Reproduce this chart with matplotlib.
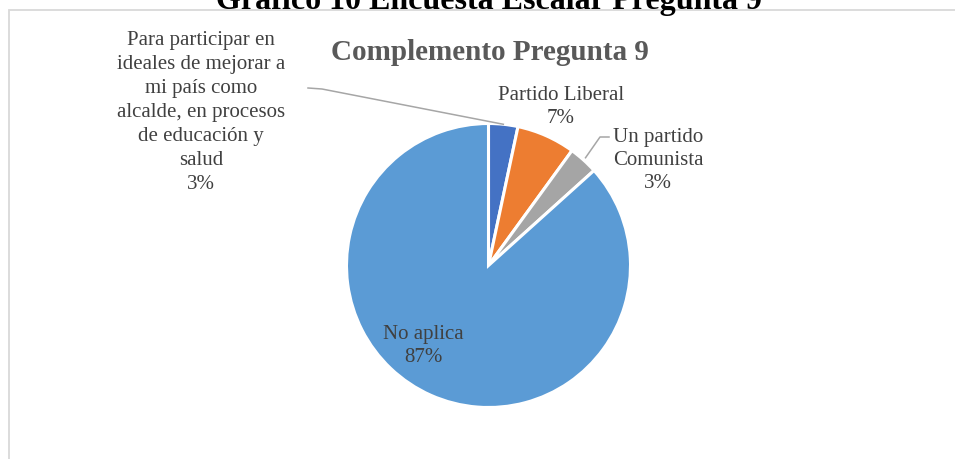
import matplotlib.pyplot as plt
import numpy as np
from matplotlib.patches import Rectangle

plt.rcParams['font.family'] = 'Liberation Serif'

# data (respuestas)
categories = ["Para participar en\nideales de mejorar a\nmi país como\nalcalde, en procesos\nde educación y\nsalud",
              "Partido Liberal",
              "Un partido\nComunista",
              "No aplica"]
counts = [1, 2, 1, 26]
colors = ["#4472C4", "#ED7D31", "#A5A5A5", "#5B9BD5"]

W, H = 955, 460
def Y(y):  # pixel row -> data y
    return H - y

fig = plt.figure(figsize=(9.55, 4.6), dpi=100)
ax = fig.add_axes([0, 0, 1, 1])

cx, cy, R = 488.5, Y(266.5), 142
wedges, _ = ax.pie(counts, colors=colors, startangle=90, counterclock=False,
                   center=(cx, cy), radius=R,
                   wedgeprops=dict(edgecolor='white', linewidth=2.2))
ax.set_xlim(0, W)
ax.set_ylim(0, H)
ax.set_aspect('auto')
ax.axis('off')

# chart frame
ax.add_patch(Rectangle((9, -20), 1000, Y(11) + 20, fill=False,
                       edgecolor='#D9D9D9', lw=1.3, clip_on=False))

# outer caption (cut at the top) and chart title
ax.text(489, Y(9), "Gráfico 10 Encuesta Escalar Pregunta 9", ha='center',
        va='baseline', fontsize=23, fontweight='bold', color='black')
ax.text(490, Y(60), "Complemento Pregunta 9", ha='center', va='baseline',
        fontsize=21, fontweight='bold', color='#595959')

total = sum(counts)
pcts = [f"{round(100 * c / total)}%" for c in counts]

# label positions (baseline of the last line)
label_pos = [(201, 189), (561, 123), (658, 188), (423, 362)]
spacing = [1.36, 1.3, 1.3, 1.32]
for cat, p, (lx, ly), ls in zip(categories, pcts, label_pos, spacing):
    ax.text(lx, Y(ly), cat + "\n" + p, ha='center', va='baseline',
            fontsize=15, color='#404040', linespacing=ls)

def edge_point(w, extra=0):
    ang = np.deg2rad((w.theta1 + w.theta2) / 2)
    return cx + (R + extra) * np.cos(ang), cy + (R + extra) * np.sin(ang)

# leader lines
px, py = edge_point(wedges[0], 0)
ax.plot([308, 322, px], [Y(89), Y(90), py], color='#A6A6A6', lw=1.1)
gx, gy = edge_point(wedges[2], 3)
ax.plot([gx, 600, 609], [gy, Y(138), Y(138)], color='#A6A6A6', lw=1.1)

fig.savefig("out.png", dpi=100)
